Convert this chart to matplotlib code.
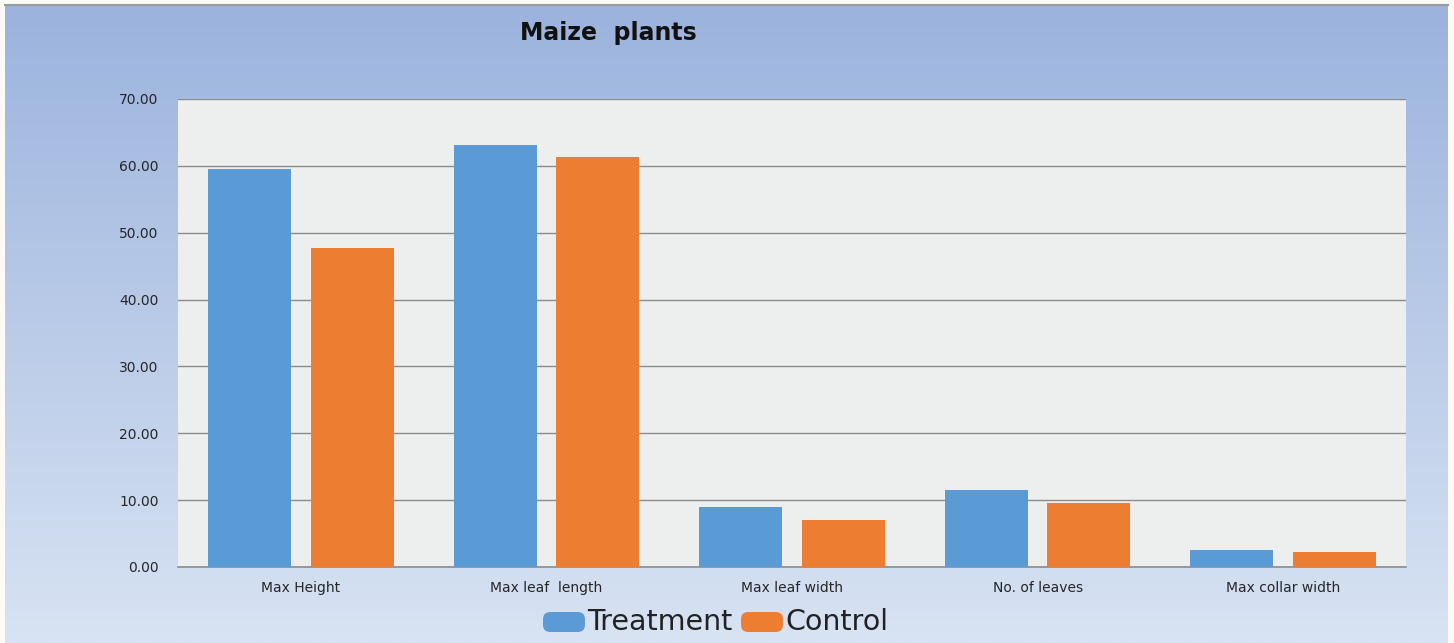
import matplotlib
matplotlib.use("Agg")
import matplotlib.pyplot as plt
import numpy as np
from matplotlib.patches import FancyBboxPatch

categories = ["Max Height", "Max leaf  length", "Max leaf width", "No. of leaves", "Max collar width"]
treatment = [59.5, 63.1, 9.0, 11.5, 2.5]
control = [47.7, 61.3, 7.0, 9.6, 2.2]
series_names = ["Treatment", "Control"]
yticks = [0, 10, 20, 30, 40, 50, 60, 70]

W, H = 1454, 643
fig = plt.figure(figsize=(W / 100, H / 100), dpi=100)
fig.patch.set_facecolor("#FDFBF6")

# background gradient box
bx0, by0, bx1, by1 = 5, 5, 1448, 643
bg = fig.add_axes([bx0 / W, 1 - by1 / H, (bx1 - bx0) / W, (by1 - by0) / H])
top = np.array([0x9B, 0xB3, 0xDD]) / 255
bot = np.array([0xD8, 0xE3, 0xF3]) / 255
t = np.linspace(0, 1, 256)[:, None]
grad = top[None, None, :] * (1 - t[:, :, None]) + bot[None, None, :] * t[:, :, None]
grad = np.repeat(grad, 2, axis=1)
bg.imshow(grad, aspect="auto", extent=[0, 1, 0, 1], origin="upper")
bg.set_xticks([]); bg.set_yticks([])
for s in ["left", "right", "bottom"]:
    bg.spines[s].set_visible(False)
bg.spines["top"].set_color("#9A9A9A")
bg.spines["top"].set_linewidth(1.5)

# plot area
px0, py0, px1, py1 = 178, 99, 1406, 567
ax = fig.add_axes([px0 / W, 1 - py1 / H, (px1 - px0) / W, (py1 - py0) / H])
ax.set_facecolor("#EDEFEE")
x = np.arange(len(categories))
bw = 0.338
off = 0.209
ax.bar(x - off, treatment, bw, color="#5B9BD5", zorder=3, label=series_names[0])
ax.bar(x + off, control, bw, color="#ED7D31", zorder=3, label=series_names[1])
ax.set_xlim(-0.5, len(categories) - 0.5)
ax.set_ylim(0, 70)
ax.set_yticks(yticks)
ax.set_yticklabels([f"{v:.2f}" for v in yticks], fontsize=10, color="#262626")
ax.set_xticks(x)
ax.set_xticklabels(categories, fontsize=10, color="#262626")
ax.tick_params(axis="both", length=0)
ax.tick_params(axis="y", pad=14)
ax.tick_params(axis="x", pad=10)
ax.yaxis.grid(True, color="#8C8C8C", linewidth=1.0, zorder=1)
for s in ["left", "right", "top"]:
    ax.spines[s].set_visible(False)
ax.spines["bottom"].set_color("#8C8C8C")
ax.spines["bottom"].set_linewidth(1.2)

fig.text(608 / W, 1 - 33 / H, "Maize  plants", fontsize=17, fontweight="bold",
         ha="center", va="center", color="#111111")

# legend
ly = 622
for x0, color, name in [(543, "#5B9BD5", series_names[0]), (741, "#ED7D31", series_names[1])]:
    p = FancyBboxPatch((x0 / W, 1 - (ly + 10) / H), 42 / W, 20 / H,
                       boxstyle="round,pad=0,rounding_size=0.005",
                       transform=fig.transFigure, facecolor=color, edgecolor="none",
                       mutation_aspect=W / H)
    fig.patches.append(p)
    fig.text((x0 + 44) / W, 1 - ly / H, name, fontsize=20.5, ha="left", va="center",
             color="#222222")

fig.savefig("out.png", dpi=100, facecolor=fig.get_facecolor())
